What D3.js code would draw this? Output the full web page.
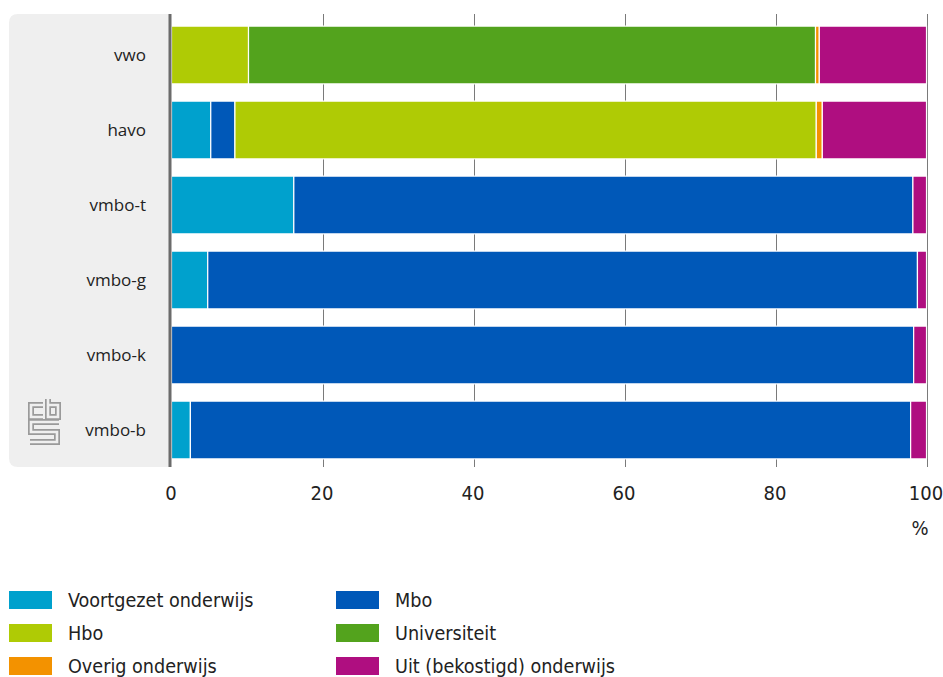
<!DOCTYPE html>
<html>
<head>
<meta charset="utf-8">
<script src="https://cdn.jsdelivr.net/npm/d3@7"></script>
<style>
  html, body { margin: 0; padding: 0; background: #fff; }
  svg { display: block; }
</style>
</head>
<body>
<svg id="chart" width="943" height="677"></svg>
<script>
// ---- data ----
const categories = ["vwo", "havo", "vmbo-t", "vmbo-g", "vmbo-k", "vmbo-b"];
const seriesNames = ["Voortgezet onderwijs", "Mbo", "Hbo", "Universiteit", "Overig onderwijs", "Uit (bekostigd) onderwijs"];
const voortgezet = [0, 5.2, 16.2, 4.8, 0, 2.5];
const mbo        = [0, 3.2, 82.0, 94.0, 98.3, 95.4];
const hbo        = [10.2, 77.0, 0, 0, 0, 0];
const universiteit = [75.1, 0, 0, 0, 0, 0];
const overig     = [0.5, 0.8, 0, 0, 0, 0];
const uit        = [14.2, 13.8, 1.8, 1.2, 1.7, 2.1];
const xTicks = [0, 20, 40, 60, 80, 100];
const unitLabel = "%";
const colors = ["#00a1cd", "#0058b8", "#afcb05", "#53a31d", "#f39200", "#af0e80"];
// legend order (two columns)
const legendOrder = ["Voortgezet onderwijs", "Hbo", "Overig onderwijs", "Mbo", "Universiteit", "Uit (bekostigd) onderwijs"];

const seriesValues = [voortgezet, mbo, hbo, universiteit, overig, uit];
const rows = categories.map((c, i) => {
  const r = { cat: c };
  seriesNames.forEach((s, j) => r[s] = seriesValues[j][i]);
  return r;
});

const svg = d3.select("#chart");
const x = d3.scaleLinear().domain([0, 100]).range([171.5, 926.5]);
const y = d3.scaleBand().domain(categories).range([17.5, 467.5]).paddingInner(0.23).paddingOuter(0.115);
const color = d3.scaleOrdinal().domain(seriesNames).range(colors);

const condFont = "'DejaVu Sans Condensed', 'DejaVu Sans', sans-serif";
const regFont = "'Open Sans', 'DejaVu Sans', sans-serif";

// gray label panel
svg.append("path")
  .attr("d", (() => {
    const x0 = 9, y0 = 14, x1 = 171, y1 = 467, r = 9;
    return `M${x0},${y0 + r} Q${x0},${y0} ${x0 + r},${y0} H${x1} V${y1} H${x0 + r} Q${x0},${y1} ${x0},${y1 - r} Z`;
  })())
  .attr("fill", "#efefef");

// gridlines
svg.append("g").selectAll("line")
  .data(xTicks.filter(d => d > 0))
  .join("line")
  .attr("x1", d => Math.round(x(d)) + 0.5).attr("x2", d => Math.round(x(d)) + 0.5)
  .attr("y1", 14).attr("y2", 467)
  .attr("stroke", "#7a7a7a").attr("stroke-width", 1);

// stacked bars
const stack = d3.stack().keys(seriesNames);
const stacked = stack(rows);
svg.append("g").selectAll("g")
  .data(stacked)
  .join("g")
  .attr("fill", d => color(d.key))
  .selectAll("rect")
  .data(d => d.filter(v => v[1] - v[0] > 0))
  .join("rect")
  .attr("x", d => x(d[0]))
  .attr("y", d => y(d.data.cat))
  .attr("width", d => x(d[1]) - x(d[0]))
  .attr("height", y.bandwidth())
  .attr("stroke", "#fff")
  .attr("stroke-width", 1.2);

// axis line
svg.append("line")
  .attr("x1", 170).attr("x2", 170).attr("y1", 14).attr("y2", 467)
  .attr("stroke", "#6b6b6b").attr("stroke-width", 3);

// category labels
svg.append("g").selectAll("text")
  .data(categories)
  .join("text")
  .attr("x", 146)
  .attr("y", d => y(d) + y.bandwidth() / 2)
  .attr("dy", "0.35em")
  .attr("text-anchor", "end")
  .attr("font-family", regFont)
  .attr("font-size", 17)
  .attr("fill", "#222")
  .text(d => d);

// x tick labels
svg.append("g").selectAll("text")
  .data(xTicks)
  .join("text")
  .attr("x", d => x(d) - 0.5)
  .attr("y", 493)
  .attr("dy", "0.35em")
  .attr("text-anchor", "middle")
  .attr("font-family", condFont)
  .attr("font-size", 20)
  .attr("fill", "#222")
  .text(d => d);

svg.append("text")
  .attr("x", 920).attr("y", 528).attr("dy", "0.35em")
  .attr("text-anchor", "middle")
  .attr("font-family", condFont).attr("font-size", 20).attr("fill", "#222")
  .text(unitLabel);

// legend
const legend = svg.append("g");
legendOrder.forEach((name, i) => {
  const col = Math.floor(i / 3), row = i % 3;
  const lx = col === 0 ? 9 : 336;
  const cy = 600 + row * 33;
  const g = legend.append("g");
  g.append("rect").attr("x", lx).attr("y", cy - 9).attr("width", 43).attr("height", 18).attr("fill", color(name));
  g.append("text").attr("x", lx + 59).attr("y", cy).attr("dy", "0.35em")
    .attr("font-family", condFont).attr("font-size", 19.6).attr("fill", "#222")
    .text(name);
});

// cbs logo (outline maze style)
const logo = svg.append("g").attr("transform", "translate(28,399)").attr("fill", "none")
  .attr("stroke-linejoin", "miter").attr("stroke-linecap", "butt");
const logoPaths = [
  "M15,6 H3 V18 H15",
  "M20,0 V18 H30 V6 H20",
  "M31,23 H3 V33 H29 V43 H2"
];
logoPaths.forEach(p => {
  logo.append("path").attr("d", p).attr("stroke", "#9a9a9a").attr("stroke-width", 6);
});
logoPaths.forEach(p => {
  logo.append("path").attr("d", p).attr("stroke", "#efefef").attr("stroke-width", 2.6);
});
</script>
</body>
</html>
